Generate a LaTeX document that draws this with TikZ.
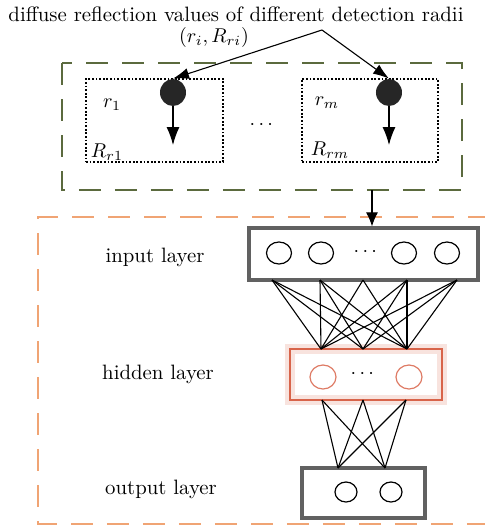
\documentclass[tikz,border=0pt]{standalone}
\usepackage{amsmath}
\usetikzlibrary{arrows.meta, shapes.geometric}

\definecolor{olivedash}{HTML}{5B6A3E}
\definecolor{orangedash}{HTML}{F0A474}
\definecolor{hidred}{HTML}{D8644A}

\begin{document}
\begin{tikzpicture}[x=0.5pt, y=-0.5pt, font=\fontsize{10.4}{12.5}\selectfont,
  neuron/.style={draw, ellipse, line width=0.6pt, inner sep=0pt,
    minimum width=12.5pt, minimum height=11pt},
  blob/.style={fill=black!85, ellipse, inner sep=0pt,
    minimum width=13pt, minimum height=13.5pt},
  dotbox/.style={draw, dash pattern=on 0.9pt off 0.9pt, line width=0.6pt, inner sep=0pt},
  layerbox/.style={draw=black!62, line width=1.6pt, inner sep=0pt},
  hidbox/.style={draw=hidred, line width=1.3pt, inner sep=0pt,
    preaction={draw=hidred!18, line width=5pt}},
  link/.style={line width=0.55pt},
  bigdash/.style={line width=0.8pt, dash pattern=on 11pt off 7pt}]
  \useasboundingbox (0,0) rectangle (484,527);

  % Titles
  \node (title) at (236,14) {diffuse reflection values of different detection radii};
  \node (pair) at (214,37) {$(r_i,R_{ri})$};
  \coordinate (split) at (322,30);

  % Input group
  \draw[bigdash, olivedash] (62,63) rectangle (462,190);
  \node[dotbox, minimum width=68.5pt, minimum height=41.5pt] (box1) at (154.5,120.5) {};
  \node[dotbox, minimum width=68pt, minimum height=41.5pt] (boxm) at (370,120.5) {};
  \node[blob] (s1) at (173,92.5) {};
  \node[blob] (sm) at (389,92.5) {};
  \coordinate (e1) at (173,145);
  \coordinate (em) at (389,145);
  \draw[link, -{Latex[length=9pt, width=6.5pt]}] (s1) -- (e1);
  \draw[link, -{Latex[length=9pt, width=6.5pt]}] (sm) -- (em);
  \node (r1) at (112,105) {$r_1$};
  \node (R1) at (107,152) {$R_{r1}$};
  \node (rm) at (327,103) {$r_m$};
  \node (Rm) at (330,150) {$R_{rm}$};
  \node (gap) at (263,125) {$\cdots$};
  \draw[link, -{Latex[length=8pt, width=5.5pt]}] (split) -- (s1.north);
  \draw[link, -{Latex[length=8pt, width=5.5pt]}] (split) -- (sm.north);

  % Network group
  \draw[bigdash, orangedash] (490,217) -- (38,217) -- (38,524) -- (490,524);
  \coordinate (down) at (372,190);
  \node[layerbox, minimum width=114.5pt, minimum height=26pt] (inbox) at (363.5,254) {};
  \node[hidbox, minimum width=76pt, minimum height=25.5pt] (hidbox) at (366,374.5) {};
  \node[layerbox, minimum width=61.5pt, minimum height=25pt] (outbox) at (363.5,493) {};
  \draw[link, -{Latex[length=7pt, width=6pt]}] (down) -- (down |- inbox.north);

  % Neurons
  \foreach \n/\x in {1/279, 2/321, 3/404, 4/447}
    \node[neuron] (in\n) at (\x,253) {};
  \node (indots) at (367,252) {$\cdots$};
  \node[neuron, draw=hidred!85, minimum width=13pt, minimum height=12pt] (h1) at (323,377) {};
  \node[neuron, draw=hidred!85, minimum width=13pt, minimum height=12pt] (h2) at (409,377) {};
  \node (hdots) at (364,374) {$\cdots$};
  \node[neuron, minimum width=11pt, minimum height=10pt] (o1) at (346,492) {};
  \node[neuron, minimum width=11pt, minimum height=10pt] (o2) at (391,492) {};

  % Layer labels
  \node (inlab) at (155,257) {input layer};
  \node (hidlab) at (158,374) {hidden layer};
  \node (outlab) at (161,489) {output layer};

  % Connection points
  \foreach \n/\x in {1/272, 2/320, 3/363, 4/407, 5/457}
    \coordinate (a\n) at (\x,280);
  \foreach \n/\x in {1/321, 2/363, 3/407}
    \coordinate (b\n) at (\x,349);
  \foreach \n/\x in {1/322, 2/363, 3/406}
    \coordinate (c\n) at (\x,400);
  \foreach \n/\x in {1/338, 2/385}
    \coordinate (d\n) at (\x,468);

  % Links
  \foreach \i in {1,2,4,5}
    \foreach \j in {1,2,3}
      \draw[link] (a\i) -- (b\j);
  \draw[link] (a3) -- (b1);
  \draw[link] (a3) -- (b3);
  \foreach \i in {1,2,3}
    \foreach \j in {1,2}
      \draw[link] (c\i) -- (d\j);
\end{tikzpicture}
\end{document}
